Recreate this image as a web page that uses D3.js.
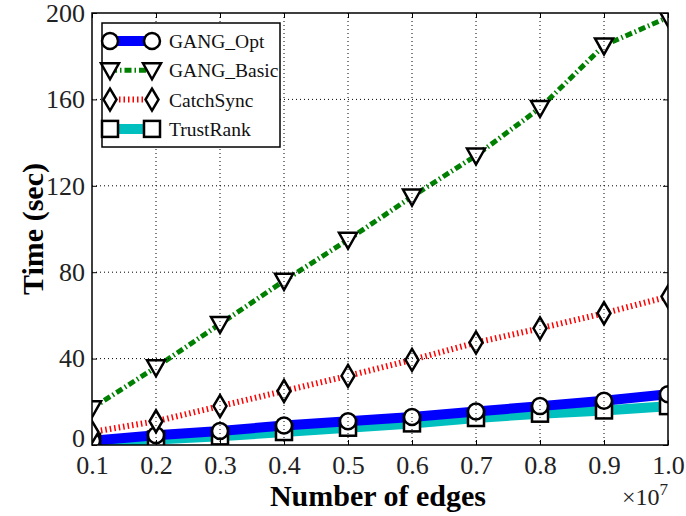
<!DOCTYPE html>
<html><head><meta charset="utf-8">
<script src="https://cdn.jsdelivr.net/npm/d3@7"></script>
<style>body{margin:0;background:#fff}svg{display:block}</style>
</head><body>
<script>
const edges = [0.1,0.2,0.3,0.4,0.5,0.6,0.7,0.8,0.9,1.0];
const gangOpt   = [2,4.5,6.5,9,11,13,15.5,18,20.5,23.5];
const gangBasic = [17,36,56,76,95,115,134,156,185,198];
const catchSync = [6,11,18,25,32,39.4,47.4,54,61,68.7];
const trustRank = [1.5,2.5,4,6,8,10,12.5,14.5,16,18];
const xTicks = [0.1,0.2,0.3,0.4,0.5,0.6,0.7,0.8,0.9,1.0];
const yTicks = [0,40,80,120,160,200];
const seriesNames = ["GANG_Opt","GANG_Basic","CatchSync","TrustRank"];

const W=686,H=516;
const m={l:92,r:18,t:13,b:71};
const svg=d3.select("body").append("svg").attr("width",W).attr("height",H);
const x=d3.scaleLinear().domain([0.1,1.0]).range([m.l,W-m.r]);
const y=d3.scaleLinear().domain([0,200]).range([H-m.b,m.t]);
const font="'Liberation Serif', 'DejaVu Serif', serif";

const series=[
 {name:seriesNames[0],vals:gangOpt,color:"#0000ff",w:10,dash:null,marker:"circle"},
 {name:seriesNames[1],vals:gangBasic,color:"#008000",w:5,dash:"7,3,1.5,3",marker:"tri"},
 {name:seriesNames[2],vals:catchSync,color:"#ff0000",w:6,dash:"1.5,3",marker:"diamond"},
 {name:seriesNames[3],vals:trustRank,color:"#00bfbf",w:10,dash:null,marker:"square"}
];
const drawOrder=[series[3],series[0],series[2],series[1]];

svg.append("defs").append("clipPath").attr("id","c").append("rect")
  .attr("x",m.l).attr("y",m.t).attr("width",W-m.r-m.l).attr("height",H-m.b-m.t);

const g=svg.append("g").attr("clip-path","url(#c)");
const line=d3.line().x((d,i)=>x(edges[i])).y(d=>y(d));
drawOrder.forEach(s=>{
  g.append("path").attr("d",line(s.vals)).attr("fill","none").attr("stroke",s.color)
   .attr("stroke-width",s.w).attr("stroke-dasharray",s.dash).attr("stroke-linecap","butt");
});
function marker(sel,type,cx,cy){
  const sw=2.5;
  if(type==="circle") sel.append("circle").attr("cx",cx).attr("cy",cy).attr("r",8);
  else if(type==="square") sel.append("rect").attr("x",cx-8).attr("y",cy-8).attr("width",16).attr("height",16);
  else if(type==="diamond") sel.append("path").attr("d",`M${cx},${cy-11}L${cx+6.5},${cy}L${cx},${cy+11}L${cx-6.5},${cy}Z`);
  else if(type==="tri") sel.append("path").attr("d",`M${cx-9},${cy-7}L${cx+9},${cy-7}L${cx},${cy+9}Z`);
  sel.selectAll("*").attr("fill","#fff").attr("stroke","#000").attr("stroke-width",sw);
}
drawOrder.forEach(s=>{
  s.vals.forEach((v,i)=>{ marker(g.append("g"),s.marker,x(edges[i]),y(v)); });
});

const grid=svg.append("g").attr("stroke","#000").attr("stroke-width",1).attr("stroke-dasharray","1,3");
xTicks.slice(1,-1).forEach(t=>grid.append("line").attr("x1",x(t)).attr("x2",x(t)).attr("y1",m.t).attr("y2",H-m.b));
yTicks.slice(1,-1).forEach(t=>grid.append("line").attr("x1",m.l).attr("x2",W-m.r).attr("y1",y(t)).attr("y2",y(t)));

svg.append("rect").attr("x",m.l).attr("y",m.t).attr("width",W-m.r-m.l).attr("height",H-m.b-m.t)
  .attr("fill","none").attr("stroke","#000").attr("stroke-width",1.5);

const xa=svg.append("g").attr("transform",`translate(0,${H-m.b})`)
  .call(d3.axisBottom(x).tickValues(xTicks).tickFormat(d3.format(".1f")).tickSizeInner(-5).tickSizeOuter(0).tickPadding(11));
const ya=svg.append("g").attr("transform",`translate(${m.l},0)`)
  .call(d3.axisLeft(y).tickValues(yTicks).tickSizeInner(-5).tickSizeOuter(0).tickPadding(7));
const xt=svg.append("g").attr("transform",`translate(0,${m.t})`)
  .call(d3.axisTop(x).tickValues(xTicks).tickFormat("").tickSizeInner(-5).tickSizeOuter(0));
const yr=svg.append("g").attr("transform",`translate(${W-m.r},0)`)
  .call(d3.axisRight(y).tickValues(yTicks).tickFormat("").tickSizeInner(-5).tickSizeOuter(0));
[xa,ya,xt,yr].forEach(a=>{a.select(".domain").remove();a.selectAll("line").attr("stroke","#000");
  a.selectAll("text").attr("font-family",font).attr("font-size",26).attr("fill","#222");});
ya.selectAll("text").filter(d=>d===0).attr("dy","0.05em");

svg.append("text").attr("x",378).attr("y",506).attr("text-anchor","middle")
  .attr("font-family",font).attr("font-weight","bold").attr("font-size",30).text("Number of edges");
const ex=svg.append("text").attr("x",668).attr("y",505).attr("text-anchor","end")
  .attr("font-family",font).attr("font-size",24).attr("fill","#222");
ex.append("tspan").text("×10");
ex.append("tspan").attr("dy",-10).attr("font-size",17).text("7");
svg.append("text").attr("transform","translate(43,229) rotate(-90)").attr("text-anchor","middle")
  .attr("font-family",font).attr("font-weight","bold").attr("font-size",30).text("Time (sec)");

const lg=svg.append("g");
lg.append("rect").attr("x",102).attr("y",23).attr("width",178).attr("height",124)
  .attr("fill","#fff").attr("stroke","#000").attr("stroke-width",1.5);
series.forEach((s,i)=>{
  const yy=41+i*29.3;
  lg.append("line").attr("x1",110).attr("x2",152).attr("y1",yy).attr("y2",yy)
   .attr("stroke",s.color).attr("stroke-width",s.w).attr("stroke-dasharray",s.dash);
  marker(lg.append("g"),s.marker,110,yy);
  marker(lg.append("g"),s.marker,152,yy);
  lg.append("text").attr("x",169).attr("y",yy+7).attr("font-family",font).attr("font-size",19.5)
   .attr("fill","#111").text(s.name);
});
</script>
</body></html>
